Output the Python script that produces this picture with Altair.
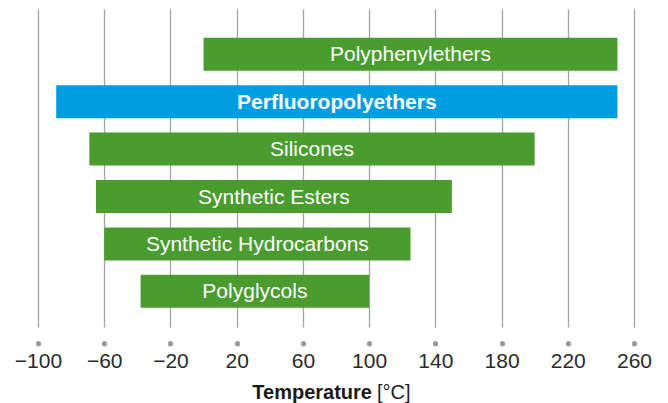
import altair as alt
import pandas as pd

# Data
categories = ["Polyphenylethers", "Perfluoropolyethers", "Silicones",
              "Synthetic Esters", "Synthetic Hydrocarbons", "Polyglycols"]
min_temp = [0, -89, -69, -65, -60, -38]
max_temp = [250, 250, 200, 150, 125, 100]
highlight = [False, True, False, False, False, False]
x_ticks = [-100, -60, -20, 20, 60, 100, 140, 180, 220, 260]

df = pd.DataFrame({
    "name": categories,
    "lo": min_temp,
    "hi": max_temp,
    "hl": highlight,
    "idx": list(range(len(categories))),
})

FONT = "Liberation Sans"
GREEN = "#4a9c2e"
BLUE = "#009ee0"

x_scale = alt.Scale(domain=[-100, 260], nice=False, zero=False, padding=0)
y_scale = alt.Scale(domain=[-0.956, 5.753], reverse=True, nice=False, zero=False, padding=0)

base = alt.Chart(df)

bars = base.mark_bar(size=33).encode(
    x=alt.X("lo:Q", scale=x_scale, axis=alt.Axis(
        values=x_ticks, title=None, domain=False, grid=True,
        gridColor="#a3a3a3", gridWidth=1.3, gridOpacity=1,
        ticks=True, tickSize=0.5, tickWidth=5, tickCap="round", tickColor="#9a9a9a",
        offset=16, labelPadding=7, labelFont=FONT, labelFontSize=21,
        labelColor="#2a2a2a", labelFlush=False,
        labelExpr="replace(format(datum.value, 'd'), '-', '\u2212')")),
    x2="hi:Q",
    y=alt.Y("idx:Q", scale=y_scale, axis=None),
    color=alt.Color("hl:N", scale=alt.Scale(domain=[False, True], range=[GREEN, BLUE]), legend=None),
)

labels_normal = base.transform_filter("!datum.hl").transform_calculate(
    mid="(datum.lo + datum.hi) / 2"
).mark_text(font=FONT, fontSize=21, color="white", baseline="middle", align="center", dy=1).encode(
    x=alt.X("mid:Q", scale=x_scale),
    y=alt.Y("idx:Q", scale=y_scale),
    text="name:N",
)

labels_bold = base.transform_filter("datum.hl").transform_calculate(
    mid="(datum.lo + datum.hi) / 2"
).mark_text(font=FONT, fontSize=21, fontWeight="bold", color="white", baseline="middle", align="center", dy=1).encode(
    x=alt.X("mid:Q", scale=x_scale),
    y=alt.Y("idx:Q", scale=y_scale),
    text="name:N",
)

title_bold = alt.Chart(pd.DataFrame({"t": ["Temperature"]})).mark_text(
    font=FONT, fontSize=20, fontWeight="bold", color="#1a1a1a", align="right", baseline="alphabetic"
).encode(x=alt.value(334), y=alt.value(390), text="t:N")

title_unit = alt.Chart(pd.DataFrame({"t": ["[°C]"]})).mark_text(
    font=FONT, fontSize=20, color="#1a1a1a", align="left", baseline="alphabetic"
).encode(x=alt.value(339), y=alt.value(390), text="t:N")

chart = alt.layer(bars, labels_normal, labels_bold, title_bold, title_unit).properties(
    width=596, height=318,
    autosize=alt.AutoSizeParams(type="none"),
    padding={"left": 30, "top": 1, "right": 26, "bottom": 76},
).configure_view(stroke=None)

chart.save("out.html", embed_options={"renderer": "svg", "actions": False})
